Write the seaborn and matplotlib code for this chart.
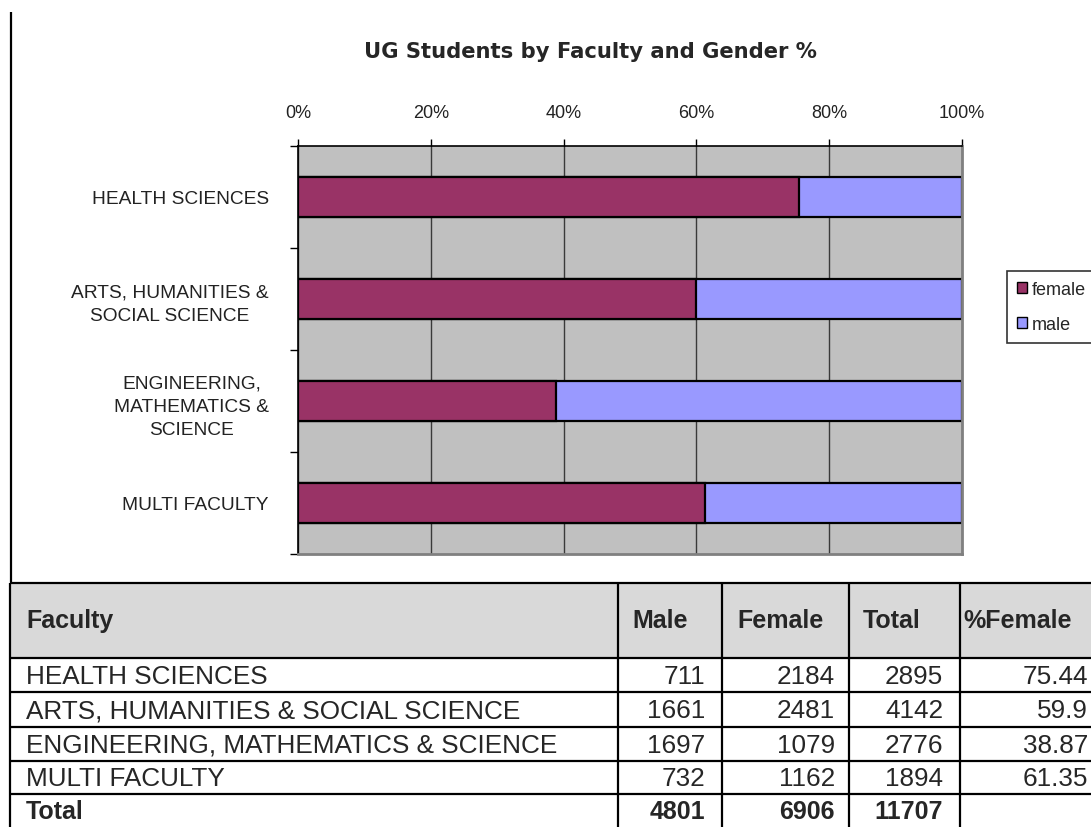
import numpy as np
import pandas as pd
import matplotlib
matplotlib.use("Agg")
import matplotlib.pyplot as plt
import seaborn as sns
from matplotlib.patches import Patch, Rectangle
from matplotlib.ticker import FixedLocator

# ---------------- data ----------------
faculties = ["HEALTH SCIENCES", "ARTS, HUMANITIES & SOCIAL SCIENCE",
             "ENGINEERING, MATHEMATICS & SCIENCE", "MULTI FACULTY"]
chart_labels = ["HEALTH SCIENCES", "ARTS, HUMANITIES &\nSOCIAL SCIENCE",
                "ENGINEERING,\nMATHEMATICS &\nSCIENCE", "MULTI FACULTY"]
male = [711, 1661, 1697, 732]
female = [2184, 2481, 1079, 1162]
total = [2895, 4142, 2776, 1894]
pct_female_text = ["75.44", "59.9", "38.87", "61.35"]
totals_row = ["4801", "6906", "11707"]
header = ["Faculty", "Male", "Female", "Total", "%Female"]
x_ticks = [0, 20, 40, 60, 80, 100]
series_names = ["female", "male"]
title = "UG Students by Faculty and Gender %"

FEMALE_C = "#993366"
MALE_C = "#9999FF"

sns.set_style("white")
plt.rcParams["font.family"] = ["Liberation Sans", "DejaVu Sans"]

W, H = 1091, 828
fig = plt.figure(figsize=(W / 100, H / 100), dpi=100)

df = pd.DataFrame({
    "faculty": chart_labels,
    "female_pct": [f / t * 100 for f, t in zip(female, total)],
    "all_pct": [(m + f) / t * 100 for m, f, t in zip(male, female, total)],
})

# ---------------- chart ----------------
ax = fig.add_axes([298 / W, 1 - 555 / H, 664 / W, 408 / H])
ax.set_facecolor("#C0C0C0")
ax.set_axisbelow(True)
ax.grid(axis="x", color="#3a3a3a", linewidth=1.0)
ax.grid(axis="y", visible=False)

sns.barplot(data=df, y="faculty", x="all_pct", orient="h", color=MALE_C,
            saturation=1, edgecolor="black", linewidth=1.6, width=0.39, ax=ax)
sns.barplot(data=df, y="faculty", x="female_pct", orient="h", color=FEMALE_C,
            saturation=1, edgecolor="black", linewidth=1.6, width=0.39, ax=ax)

ax.set_xlim(0, 100)
ax.set_ylim(3.5, -0.5)
ax.set_xlabel("")
ax.set_ylabel("")
ax.xaxis.tick_top()
ax.set_xticks(x_ticks)
ax.set_xticklabels([f"{v}%" for v in x_ticks], fontsize=13, color="#222222")
ax.tick_params(axis="x", which="major", length=5, width=1, color="black",
               pad=13, top=True, bottom=False)
ax.set_yticks(range(len(chart_labels)))
ax.set_yticklabels(chart_labels, fontsize=13.8, color="#222222", linespacing=1.5)
for lab in ax.get_yticklabels():
    lab.set_multialignment("center")
ax.tick_params(axis="y", which="major", length=0, pad=21)
ax.yaxis.set_minor_locator(FixedLocator([-0.5, 0.5, 1.5, 2.5, 3.5]))
ax.tick_params(axis="y", which="minor", length=6, width=1, color="black", left=True)

for s in ["top", "left"]:
    ax.spines[s].set_color("black")
    ax.spines[s].set_linewidth(1.2)
for s in ["right", "bottom"]:
    ax.spines[s].set_color("#808080")
    ax.spines[s].set_linewidth(2)

fig.text(590 / W, 1 - 52 / H, title, ha="center", va="center",
         fontsize=15.2, fontweight="bold", family=["DejaVu Sans"])

handles = [Patch(facecolor=FEMALE_C, edgecolor="black", label=series_names[0]),
           Patch(facecolor=MALE_C, edgecolor="black", label=series_names[1])]
leg = fig.legend(handles=handles, loc="upper left",
                 bbox_to_anchor=(1007 / W, 1 - 272 / H), frameon=True,
                 fancybox=False, edgecolor="black", fontsize=13,
                 handlelength=0.55, handleheight=0.55, handletextpad=0.25,
                 labelspacing=1.0, borderpad=0.55, borderaxespad=0)
leg.get_frame().set_linewidth(1.2)

# ---------------- table ----------------
tax = fig.add_axes([0, 0, 1, 1], zorder=-1)
tax.set_xlim(0, W)
tax.set_ylim(H, 0)
tax.axis("off")

col_x = [10, 618, 722, 849, 960]
row_y = [584, 659, 693, 728, 762, 795, 828]
tax.add_patch(Rectangle((10, 584), W + 20, 75, facecolor="#D9D9D9",
                        edgecolor="none"))
for y in row_y[:-1]:
    tax.plot([10, W + 10], [y, y], color="black", lw=1.6, solid_capstyle="butt")
for x in col_x:
    tax.plot([x, x], [584, H + 5], color="black", lw=1.6, solid_capstyle="butt")
# chart frame left edge
tax.plot([11, 11], [13, 584], color="black", lw=1.6, solid_capstyle="butt")

hfs = 18
fs = 18.8
hx = [26, 632, 737, 863, 963]
for x, t in zip(hx, header):
    tax.text(x, 621, t, ha="left", va="center", fontsize=hfs, fontweight="bold")

num_right = [705, 835, 943, 1088]
centers = [(row_y[i] + row_y[i + 1]) / 2 + 1 for i in range(1, 6)]
for i, name in enumerate(faculties):
    cy = centers[i]
    tax.text(26, cy, name, ha="left", va="center", fontsize=fs)
    vals = [str(male[i]), str(female[i]), str(total[i]), pct_female_text[i]]
    for x, v in zip(num_right, vals):
        tax.text(x, cy, v, ha="right", va="center", fontsize=fs)
cy = centers[4]
tax.text(26, cy, "Total", ha="left", va="center", fontsize=hfs, fontweight="bold")
for x, v in zip(num_right[:3], totals_row):
    tax.text(x, cy, v, ha="right", va="center", fontsize=hfs, fontweight="bold")

fig.savefig("out.png", dpi=100)
